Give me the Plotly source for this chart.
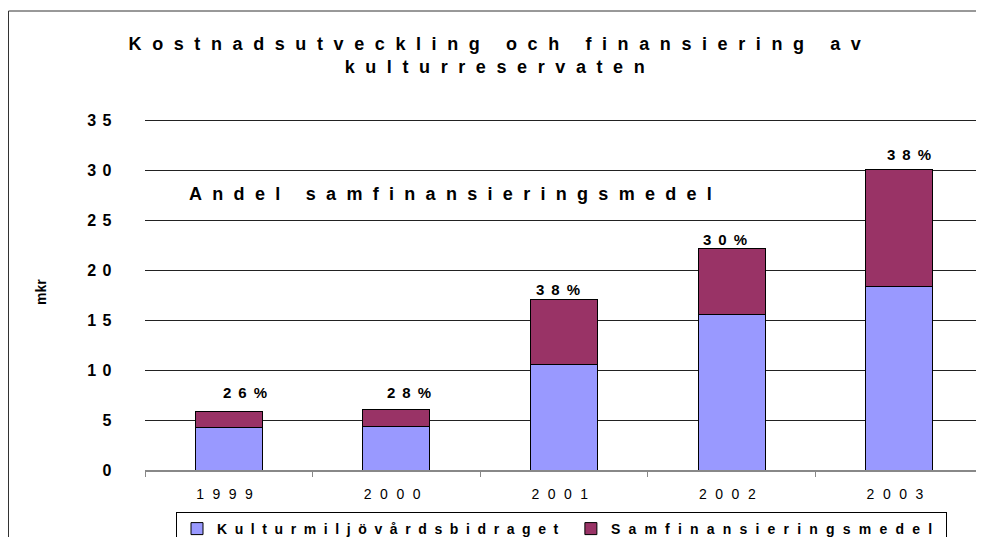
import plotly.graph_objects as go

# ---- data ----
years = ["1999", "2000", "2001", "2002", "2003"]
kulturmiljo = [4.23, 4.33, 10.6, 15.57, 18.4]      # Kulturmiljövårdsbidraget (mkr)
samfin = [1.6, 1.74, 6.45, 6.6, 11.67]             # Samfinansieringsmedel (mkr)
shares = ["26%", "28%", "38%", "30%", "38%"]       # Andel samfinansieringsmedel
y_ticks = [0, 5, 10, 15, 20, 25, 30, 35]

title_lines = ["Kostnadsutveckling och finansiering av", "kulturreservaten"]
note_text = "Andel samfinansieringsmedel"
y_title = "mkr"
series_names = ["Kulturmiljövårdsbidraget", "Samfinansieringsmedel"]

# ---- style ----
W, H = 984, 537
OFF = 8                      # page margin around the figure in the browser
L, R, T, B = 137, 9, 110, 75
Y_MAX = 35.2
FONT = "Liberation Sans"
BLUE = "#9999FF"
MAROON = "#993366"
# per-label nudges (px) of the share labels, as placed in the original
label_dx = [20, 16, -3, -3, 13]
label_dy = [19, 17, 10, 9, 15]


def spaced(text, px):
    return f'<span style="letter-spacing:{px}px">{text}</span>'


def px_x(x):
    return (x - OFF - L) / (W - L - R)


def px_y(y):
    return (H - B - (y - OFF)) / (H - T - B)


fig = go.Figure()
fig.add_trace(go.Bar(
    x=years, y=kulturmiljo, name=spaced(series_names[0], 7.6),
    marker=dict(color=BLUE, line=dict(color="black", width=1)),
    hoverinfo="skip",
))
fig.add_trace(go.Bar(
    x=years, y=samfin, name=spaced(series_names[1], 8.2),
    marker=dict(color=MAROON, line=dict(color="black", width=1)),
    hoverinfo="skip",
))

totals = [a + b for a, b in zip(kulturmiljo, samfin)]
annotations = []
for i, (tot, s, dx, dy) in enumerate(zip(totals, shares, label_dx, label_dy)):
    annotations.append(dict(
        x=i, y=tot, xref="x", yref="y", text=spaced(s, 7),
        showarrow=False, xanchor="center", yanchor="middle",
        xshift=dx, yshift=dy,
        font=dict(family=FONT, size=15, color="black", weight="bold"),
    ))

annotations.append(dict(
    x=px_x(187), y=px_y(194), xref="paper", yref="paper",
    text=spaced(note_text, 10.3), showarrow=False,
    xanchor="left", yanchor="middle",
    font=dict(family=FONT, size=18, color="black", weight="bold"),
))
annotations.append(dict(
    x=px_x(41), y=px_y(292), xref="paper", yref="paper",
    text=y_title, showarrow=False, textangle=-90,
    xanchor="center", yanchor="middle",
    font=dict(family=FONT, size=14, color="black", weight="bold"),
))

shapes = [
    dict(type="line", xref="paper", yref="paper",
         x0=px_x(8.5), x1=px_x(W + OFF - 1), y0=px_y(11), y1=px_y(11),
         line=dict(color="#333333", width=1)),
    dict(type="line", xref="paper", yref="paper",
         x0=px_x(8.5), x1=px_x(8.5), y0=px_y(11), y1=px_y(H + OFF - 1),
         line=dict(color="#333333", width=1)),
]

fig.update_layout(
    width=W, height=H,
    margin=dict(l=L, r=R, t=T, b=B, pad=0, autoexpand=False),
    paper_bgcolor="white", plot_bgcolor="white",
    barmode="stack", bargap=0.6,
    showlegend=True,
    title=dict(
        text=spaced(title_lines[0], 10.6) + "<br>" + spaced(title_lines[1], 10.6),
        x=492 / W, xref="container", xanchor="center",
        y=1 - 42 / H, yref="container", yanchor="top",
        font=dict(family=FONT, size=18, color="black", weight="bold"),
    ),
    legend=dict(
        orientation="h", x=(176 - OFF) / W, y=1 - (512 - OFF) / H,
        xref="container", yref="container",
        xanchor="left", yanchor="top",
        bordercolor="black", borderwidth=1, bgcolor="white",
        font=dict(family=FONT, size=14, color="black", weight="bold"),
        traceorder="normal",
    ),
    xaxis=dict(
        type="category", categoryorder="array", categoryarray=years,
        range=[-0.5, len(years) - 0.5],
        showgrid=False, zeroline=False,
        showline=True, linecolor="#888888", linewidth=2,
        ticks="outside", ticklen=5, tickcolor="#888888", tickwidth=1,
        tickson="boundaries",
        labelalias={y: spaced(y, 8.5) for y in years},
        tickfont=dict(family=FONT, size=14, color="black"),
        tickangle=0,
        ticklabelstandoff=10,
    ),
    yaxis=dict(
        range=[0, Y_MAX], tickvals=y_ticks,
        ticktext=[spaced(str(v), 6.5) for v in y_ticks],
        showgrid=True, gridcolor="#222222", gridwidth=1,
        zeroline=False, showline=False, ticks="",
        tickfont=dict(family=FONT, size=16, color="black", weight="bold"),
        ticklabelstandoff=26,
    ),
    annotations=annotations,
    shapes=shapes,
    font=dict(family=FONT),
)

fig.write_html("out.html")
